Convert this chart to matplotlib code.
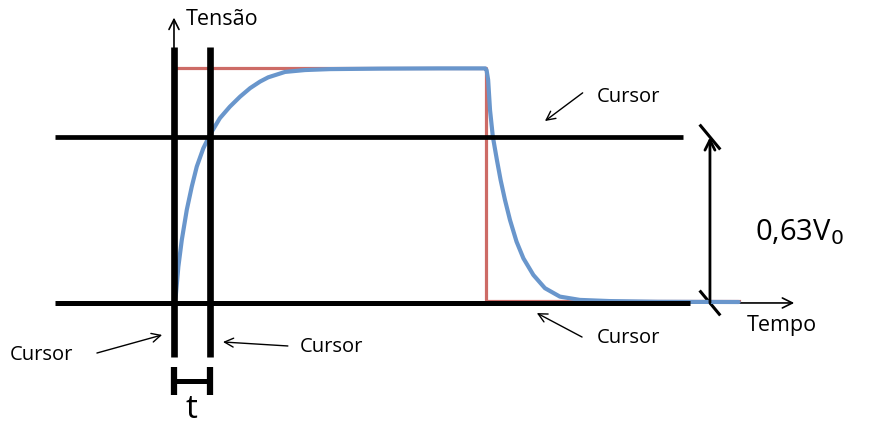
import matplotlib
matplotlib.use("Agg")
import matplotlib.pyplot as plt

# signal (time in units of ~31 px, voltage normalized to V0)
square_t = [0.0, 0.0, 10.0, 10.0, 18.1]
square_v = [0.0, 1.0, 1.0, 0.009, 0.009]

rise_t = [0.02, 0.06, 0.14, 0.25, 0.41, 0.57, 0.73, 0.94, 1.15, 1.47, 1.79, 2.12, 2.44,
          2.76, 3.02, 3.56, 4.2, 5.0, 6.6, 8.5, 9.98]
rise_v = [0.01, 0.034, 0.154, 0.268, 0.396, 0.495, 0.580, 0.658, 0.715, 0.786, 0.835, 0.878, 0.914,
          0.942, 0.960, 0.983, 0.991, 0.995, 0.997, 0.998, 0.998]
fall_t = [10.02, 10.07, 10.13, 10.22, 10.35, 10.47, 10.61, 10.77, 10.98, 11.20, 11.52, 11.89,
          12.37, 13.01, 13.97, 15.5, 18.1]
fall_v = [0.99, 0.949, 0.821, 0.708, 0.609, 0.523, 0.438, 0.353, 0.261, 0.190, 0.119, 0.063,
          0.027, 0.013, 0.008, 0.005, 0.004]

cursor_times = [0.0, 1.15]
cursor_levels = [0.706, 0.0]
level_label = "0,63V$_0$"

plt.rcParams["font.family"] = ["Open Sans", "DejaVu Sans"]

fig = plt.figure(figsize=(8.7, 4.28), dpi=100)
ax = fig.add_axes([0, 0, 1, 1])
ax.set_xlim(-5.577, 22.31)
ax.set_ylim(-0.532, 1.289)
ax.axis("off")

# axes arrows
ax.annotate("", xy=(0.0, 1.226), xytext=(0.0, 0.9),
            arrowprops=dict(arrowstyle="->", lw=1.2, color="black", mutation_scale=18))
ax.annotate("", xy=(19.97, 0.0), xytext=(0.0, 0.0),
            arrowprops=dict(arrowstyle="->", lw=1.2, color="black", mutation_scale=18))
ax.text(0.38, 1.204, "Tensão", fontsize=15.5, va="center", ha="left")
ax.text(18.37, -0.094, "Tempo", fontsize=15.5, va="center", ha="left")

# signals
ax.plot(square_t, square_v, color="#cd6b66", lw=2.3, zorder=2)
ax.plot(rise_t + fall_t, rise_v + fall_v, color="#6996cc", lw=3.0, zorder=3,
        solid_capstyle="round", solid_joinstyle="round")

# cursors
ax.plot([-3.81, 16.31], [cursor_levels[0]] * 2, color="black", lw=3.4, zorder=4, solid_capstyle="butt")
ax.plot([-3.81, 16.54], [cursor_levels[1]] * 2, color="black", lw=3.6, zorder=4, solid_capstyle="butt")
for ct in cursor_times:
    ax.plot([ct, ct], [-0.23, 1.089], color="black", lw=4.8, zorder=5, solid_capstyle="butt")

# time interval bracket
for ct in cursor_times:
    ax.plot([ct, ct], [-0.272, -0.391], color="black", lw=4.5, solid_capstyle="butt")
ax.plot(cursor_times, [-0.332, -0.332], color="black", lw=3.6, solid_capstyle="butt")
ax.text(sum(cursor_times) / 2, -0.525, "t", fontsize=24, ha="center", va="bottom")

# 0.63 V0 dimension
dim_t = 17.18
ax.annotate("", xy=(dim_t, cursor_levels[0]), xytext=(dim_t, cursor_levels[1]),
            arrowprops=dict(arrowstyle="->", lw=2.0, color="black", mutation_scale=18,
                            shrinkA=0, shrinkB=0))
for lv in cursor_levels:
    ax.plot([dim_t - 0.3, dim_t + 0.3], [lv + 0.048, lv - 0.048], color="black", lw=2.2)
ax.text(18.62, 0.30, level_label, fontsize=21, va="center", ha="left")

# cursor labels
labels = [
    ((13.56, 0.877), (13.10, 0.894), (11.89, 0.774)),
    ((-5.26, -0.221), (-2.47, -0.213), (-0.38, -0.136)),
    ((4.04, -0.187), (3.65, -0.183), (1.57, -0.166)),
    ((13.56, -0.149), (13.08, -0.145), (11.63, -0.043)),
]
for (tx, ty), tail, head in labels:
    ax.text(tx, ty, "Cursor", fontsize=14.5, va="center", ha="left")
    ax.annotate("", xy=head, xytext=tail,
                arrowprops=dict(arrowstyle="->", lw=1.0, color="black", mutation_scale=16,
                                shrinkA=0, shrinkB=0))

fig.savefig("out.png", dpi=100)
